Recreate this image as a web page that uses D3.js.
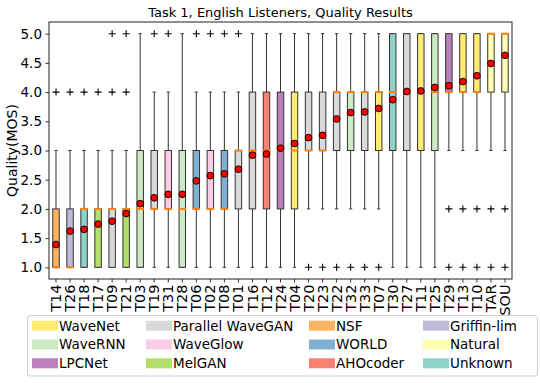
<!DOCTYPE html>
<html>
<head>
<meta charset="utf-8">
<title>Task 1 quality boxplot</title>
<script src="https://cdn.jsdelivr.net/npm/d3@7"></script>
<style>
  body { margin: 0; background: #fff; }
  text { font-family: "DejaVu Sans", sans-serif; }
</style>
</head>
<body>
<div class="viz"></div>
<script>
// systems in plotted order (sorted by mean)
var systems = ["T14","T26","T18","T17","T09","T21","T03","T19","T31","T28","T06","T02","T08","T01","T16","T12","T24",
               "T04","T20","T23","T22","T32","T33","T07","T30","T27","T11","T25","T29","T13","T10","TAR","SOU"];
var vocoder = ["NSF","Griffin-lim","Unknown","MelGAN","Parallel WaveGAN","MelGAN","WaveRNN","Parallel WaveGAN","WaveGlow",
               "WaveRNN","WORLD","WaveGlow","WORLD","Parallel WaveGAN","Parallel WaveGAN","AHOcoder","LPCNet","WaveNet",
               "Parallel WaveGAN","Parallel WaveGAN","Parallel WaveGAN","WaveRNN","Parallel WaveGAN","WaveNet","Unknown",
               "Parallel WaveGAN","WaveNet","WaveRNN","LPCNet","WaveNet","WaveNet","Natural","Natural"];
var q1     = [1,1,1,1,1,1,1,2,2,1,2,2,2,2,2,2,2,2,3,3,3,3,3,3,3,3,3,3,4,4,4,4,4];
var median = [1,1,2,2,2,2,2,2,2,2,2,2,2,3,3,3,3,3,3,3,4,4,4,4,4,4,4,4,4,4,4,5,5];
var q3     = [2,2,2,2,2,2,3,3,3,3,3,3,3,3,4,4,4,4,4,4,4,4,4,4,5,5,5,5,5,5,5,5,5];
var whisLo = [1,1,1,1,1,1,1,1,1,1,1,1,1,1,1,1,1,1,2,2,2,2,2,2,1,1,1,1,3,3,3,3,3];
var whisHi = [3,3,3,3,3,3,5,4,4,5,4,4,4,4,5,5,5,5,5,5,5,5,5,5,5,5,5,5,5,5,5,5,5];
var means  = [1.39,1.62,1.65,1.74,1.79,1.92,2.09,2.19,2.25,2.25,2.48,2.57,2.60,2.68,2.92,2.94,3.04,
              3.12,3.22,3.26,3.54,3.65,3.66,3.72,3.87,4.01,4.02,4.08,4.11,4.18,4.28,4.49,4.63];
var fliers = [[4],[4],[4],[4],[4,5],[4,5],[],[5],[5],[],[5],[5],[5],[5],[],[],[],
              [],[1],[1],[1],[1],[1],[1],[],[],[],[],[2,1],[2,1],[2,1],[2,1],[2,1]];

var legendNames = ["WaveNet","WaveRNN","LPCNet","Parallel WaveGAN","WaveGlow","MelGAN",
                   "NSF","WORLD","AHOcoder","Griffin-lim","Natural","Unknown"];
var legendColors = ["#ffed6f","#ccebc5","#bc80bd","#d9d9d9","#fccde5","#b3de69",
                    "#fdb462","#80b1d3","#fb8072","#bebada","#ffffb3","#8dd3c7"];
var yTicks = [1.0,1.5,2.0,2.5,3.0,3.5,4.0,4.5,5.0];

var width = 540, height = 383;
var plotL = 49, plotR = 512, plotT = 22, plotB = 279;

var svg = d3.select(".viz").append("svg")
    .attr("width", width)
    .attr("height", height)
    .style("display", "block");

var color = d3.scaleOrdinal().domain(legendNames).range(legendColors);

var x = d3.scaleBand().domain(systems).range([plotL, plotR]).padding(0);
var y = d3.scaleLinear().domain([0.8, 5.2]).range([plotB, plotT]);

var bw = x.bandwidth() * 0.46;
var cx = function(i){ return x(systems[i]) + x.bandwidth() / 2; };

// axes
var yAxis = svg.append("g")
    .attr("transform", "translate(" + plotL + ",0)")
    .call(d3.axisLeft(y).tickValues(yTicks).tickFormat(d3.format(".1f")).tickSize(3.5).tickPadding(3.5));
var xAxis = svg.append("g")
    .attr("transform", "translate(0," + plotB + ")")
    .call(d3.axisBottom(x).tickSize(3.5).tickPadding(3));
[yAxis, xAxis].forEach(function(g){
  g.select(".domain").remove();
  g.selectAll(".tick line").attr("stroke", "#000").attr("stroke-width", 0.8);
  g.selectAll(".tick text").attr("fill", "#000").style("font-size", "13px").style("font-family", "DejaVu Sans");
});
yAxis.selectAll(".tick text").style("font-size", "13.5px");
xAxis.selectAll(".tick text")
    .style("font-size", "14.5px")
    .attr("transform", "rotate(-90)")
    .attr("text-anchor", "end")
    .attr("dy", "0.35em")
    .attr("x", -5.5)
    .attr("y", 0);

// frame
svg.append("rect")
    .attr("x", plotL).attr("y", plotT)
    .attr("width", plotR - plotL).attr("height", plotB - plotT)
    .attr("fill", "none").attr("stroke", "#222").attr("stroke-width", 1);

var boxes = svg.append("g").selectAll("g")
    .data(systems)
    .enter().append("g");

// whiskers
boxes.append("line")
    .attr("x1", function(d, i){ return cx(i); }).attr("x2", function(d, i){ return cx(i); })
    .attr("y1", function(d, i){ return y(whisLo[i]); })
    .attr("y2", function(d, i){ return y(q1[i]); })
    .attr("stroke", "#333").attr("stroke-width", 1);
boxes.append("line")
    .attr("x1", function(d, i){ return cx(i); }).attr("x2", function(d, i){ return cx(i); })
    .attr("y1", function(d, i){ return y(q3[i]); })
    .attr("y2", function(d, i){ return y(whisHi[i]); })
    .attr("stroke", "#333").attr("stroke-width", 1);
// caps
[whisLo, whisHi].forEach(function(arr){
  boxes.append("line")
      .attr("x1", function(d, i){ return cx(i) - bw / 4; })
      .attr("x2", function(d, i){ return cx(i) + bw / 4; })
      .attr("y1", function(d, i){ return y(arr[i]); })
      .attr("y2", function(d, i){ return y(arr[i]); })
      .attr("stroke", "#333").attr("stroke-width", 1);
});

// boxes
boxes.append("rect")
    .attr("x", function(d, i){ return cx(i) - bw / 2; })
    .attr("y", function(d, i){ return y(q3[i]); })
    .attr("width", bw)
    .attr("height", function(d, i){ return y(q1[i]) - y(q3[i]); })
    .attr("fill", function(d, i){ return color(vocoder[i]); })
    .attr("stroke", "#333").attr("stroke-width", 1);

// medians
boxes.append("line")
    .attr("x1", function(d, i){ return cx(i) - bw / 2 - 0.5; })
    .attr("x2", function(d, i){ return cx(i) + bw / 2 + 0.5; })
    .attr("y1", function(d, i){ return y(median[i]); })
    .attr("y2", function(d, i){ return y(median[i]); })
    .attr("stroke", "#ff7f0e").attr("stroke-width", 2);

// fliers
boxes.each(function(d, i){
  d3.select(this).selectAll("path.flier")
    .data(fliers[i])
    .enter().append("path")
    .attr("class", "flier")
    .attr("d", function(v){
      var px = cx(i), py = y(v), s = 3.5;
      return "M" + (px - s) + "," + py + "H" + (px + s) + "M" + px + "," + (py - s) + "V" + (py + s);
    })
    .attr("stroke", "#000").attr("stroke-width", 1.1).attr("fill", "none");
});

// means
boxes.append("circle")
    .attr("cx", function(d, i){ return cx(i); })
    .attr("cy", function(d, i){ return y(means[i]); })
    .attr("r", 3.4)
    .attr("fill", "#ff0000")
    .attr("stroke", "#000").attr("stroke-width", 0.9);

// title & label
svg.append("text")
    .attr("x", (plotL + plotR) / 2).attr("y", 16.5)
    .attr("text-anchor", "middle")
    .style("font-size", "13px")
    .text("Task 1, English Listeners, Quality Results");
svg.append("text")
    .attr("transform", "translate(16.5," + ((plotT + plotB) / 2) + ") rotate(-90)")
    .attr("text-anchor", "middle")
    .style("font-size", "14px")
    .text("Quality(MOS)");

// legend
var lg = svg.append("g");
lg.append("rect")
    .attr("x", 27.5).attr("y", 315.5)
    .attr("width", 510).attr("height", 60.5)
    .attr("rx", 3)
    .attr("fill", "#fff").attr("stroke", "#ccc").attr("stroke-width", 1);
var colX = [32, 146, 309, 423];
var rowY = [325.7, 344.5, 363.3];
var items = lg.selectAll("g.item")
    .data(legendNames)
    .enter().append("g")
    .attr("class", "item")
    .attr("transform", function(d, i){
      return "translate(" + colX[Math.floor(i / 3)] + "," + rowY[i % 3] + ")";
    });
items.append("rect")
    .attr("x", 0).attr("y", -5)
    .attr("width", 26).attr("height", 10)
    .attr("fill", function(d){ return color(d); });
items.append("text")
    .attr("x", 27).attr("y", 0)
    .attr("dy", "0.36em")
    .style("font-size", "13.5px")
    .text(function(d){ return d; });
</script>
</body>
</html>
